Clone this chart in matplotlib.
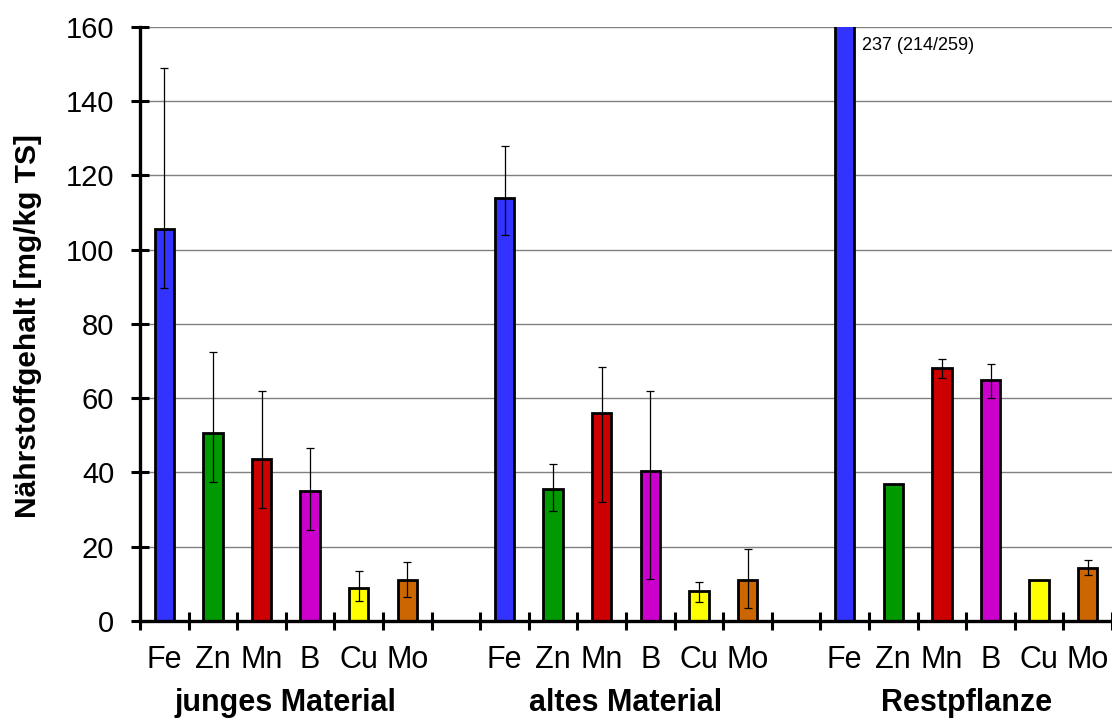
import numpy as np
import matplotlib
matplotlib.use("Agg")
import matplotlib.pyplot as plt

plt.rcParams['font.family'] = ['Liberation Sans', 'DejaVu Sans']

groups = ["junges Material", "altes Material", "Restpflanze"]
elements = ["Fe", "Zn", "Mn", "B", "Cu", "Mo"]
colors = ["#3333FF", "#009900", "#CC0000", "#CC00CC", "#FFFF00", "#CC6600"]

values_jung = [105.5, 50.5, 43.5, 35.0, 9.0, 11.0]
err_lo_jung = [89.6, 37.5, 30.5, 24.5, 5.5, 6.5]
err_hi_jung = [148.9, 72.5, 62.0, 46.5, 13.5, 16.0]

values_alt = [113.8, 35.5, 56.1, 40.3, 8.0, 11.0]
err_lo_alt = [103.9, 29.5, 32.0, 11.2, 5.0, 3.5]
err_hi_alt = [128.0, 42.3, 68.3, 62.0, 10.5, 19.3]

values_rest = [237.0, 37.0, 68.0, 64.8, 11.0, 14.3]
err_lo_rest = [np.nan, np.nan, 65.5, 60.0, np.nan, 12.5]
err_hi_rest = [np.nan, np.nan, 70.5, 69.3, np.nan, 16.5]

annot_text = "237 (214/259)"

all_vals = [values_jung, values_alt, values_rest]
all_lo = [err_lo_jung, err_lo_alt, err_lo_rest]
all_hi = [err_hi_jung, err_hi_alt, err_hi_rest]

fig = plt.figure(figsize=(11.12, 7.24), dpi=100)
ax = fig.add_axes([0.1259, 0.1423, 0.8741, 0.8208])

slot = 7
bw = 0.40
label_pos = []
label_txt = []
for g in range(3):
    x = np.arange(6) + g * slot + 0.5
    v = np.array(all_vals[g])
    lo = np.array(all_lo[g])
    hi = np.array(all_hi[g])
    ax.bar(x, v, width=bw, color=colors, edgecolor="black", linewidth=2.0, zorder=3)
    yerr = np.vstack([v - lo, hi - v])
    mask = ~np.isnan(lo)
    ax.errorbar(x[mask], v[mask], yerr=yerr[:, mask], fmt="none", ecolor="black",
                elinewidth=0.9, capsize=2.6, capthick=0.9, zorder=4)
    label_pos.extend(x)
    label_txt.extend(elements)
    ax.text(g * slot + 3.0, -0.138, groups[g], transform=ax.get_xaxis_transform(),
            ha="center", va="center", fontsize=22, fontweight="bold")

ax.text(2 * slot + 0.5 + bw / 2 + 0.15, 157.3, annot_text, fontsize=13, ha="left", va="top", zorder=5)

ax.set_xlim(0, 20)
ax.set_ylim(0, 160)
ax.set_yticks(np.arange(0, 161, 20))
ax.set_xticks(np.arange(0, 21, 1))
ax.set_xticklabels([])
ax.set_xticks(label_pos, minor=True)
ax.set_xticklabels(label_txt, minor=True, fontsize=22)
ax.tick_params(axis="x", which="minor", length=0, pad=17)
ax.tick_params(axis="x", which="major", direction="inout", length=13, width=2.2)
ax.tick_params(axis="y", which="major", direction="inout", length=13, width=2.2,
               labelsize=21, pad=12)

ax.yaxis.grid(True, color="#808080", linewidth=1.0, zorder=0)
ax.set_axisbelow(True)
for s in ["top", "right"]:
    ax.spines[s].set_visible(False)
for s in ["left", "bottom"]:
    ax.spines[s].set_linewidth(2.4)
    ax.spines[s].set_zorder(5)

ax.set_ylabel("Nährstoffgehalt [mg/kg TS]", fontsize=21.5, fontweight="bold")
ax.yaxis.set_label_coords(-0.101, 0.497)

fig.savefig("out.png", dpi=100)
